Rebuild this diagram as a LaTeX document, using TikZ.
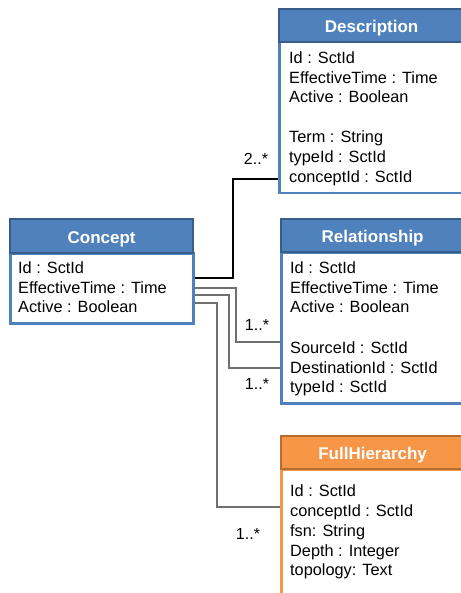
\documentclass[tikz,border=0pt]{standalone}
\usepackage{fontspec}
\setmainfont{Liberation Sans}
\definecolor{umlblue}{HTML}{4F81BD}
\definecolor{umlblueedge}{HTML}{385D8A}
\definecolor{umlorange}{HTML}{F79646}
\definecolor{umlorangeedge}{HTML}{B66D31}
\definecolor{linkgray}{HTML}{707070}
\begin{document}
\begin{tikzpicture}[x=1pt,y=-1pt,
  classhead/.style={rectangle, inner sep=0, anchor=north west, line width=2.2pt, text=white,
    font=\fontsize{17}{20}\selectfont\bfseries, text height=15.4pt, text depth=1pt},
  classbody/.style={rectangle, inner sep=0, anchor=north west, line width=2.5pt, fill=white},
  attr/.style={anchor=base west, inner sep=0, font=\fontsize{16.3}{19}\selectfont},
  mult/.style={anchor=base, inner sep=0, font=\fontsize{16}{19}\selectfont},
  assoc/.style={line width=1.1pt},
  grayassoc/.style={draw=linkgray, line width=1.8pt}]
\useasboundingbox[fill=white] (0,0) rectangle (460,593);
% Concept
\node[classbody, draw=umlblue, minimum width=183pt, minimum height=70pt] (conceptbody) at (9,252) {};
\node[classhead, fill=umlblue, draw=umlblueedge, minimum width=183pt, minimum height=34pt] (concepthead) at (9,218) {Concept};
\foreach \y/\t [count=\i] in {273/Id : SctId, 293/EffectiveTime : Time, 312/Active : Boolean}
  \node[attr] (concept-a\i) at (18,\y) {\t};
% Description
\node[classbody, draw=umlblue, minimum width=185pt, minimum height=151pt] (descbody) at (278,41) {};
\node[classhead, fill=umlblue, draw=umlblueedge, minimum width=185pt, minimum height=33pt] (deschead) at (278,8) {Description};
\foreach \y/\t [count=\i] in {63.3/Id : SctId, 83.3/EffectiveTime : Time, 102.5/Active : Boolean,
    142.7/Term : String, 162.3/typeId : SctId, 182.3/conceptId : SctId}
  \node[attr] (desc-a\i) at (289,\y) {\t};
% Relationship
\node[classbody, draw=umlblue, minimum width=183pt, minimum height=151pt] (relbody) at (280,251) {};
\node[classhead, fill=umlblue, draw=umlblueedge, minimum width=183pt, minimum height=33pt] (relhead) at (280,218) {Relationship};
\foreach \y/\t [count=\i] in {273.3/Id : SctId, 293.3/EffectiveTime : Time, 312.7/Active : Boolean,
    353.3/SourceId : SctId, 373.3/DestinationId : SctId, 392.7/typeId : SctId}
  \node[attr] (rel-a\i) at (290,\y) {\t};
% FullHierarchy
\node[classbody, draw=umlorange, minimum width=183pt, minimum height=142pt] (fhbody) at (280,468) {};
\node[classhead, fill=umlorange, draw=umlorangeedge, minimum width=183pt, minimum height=33pt] (fhhead) at (280,435) {FullHierarchy};
\foreach \y/\t [count=\i] in {496.7/Id : SctId, 516.7/conceptId : SctId, 536.7/fsn: String,
    556/Depth : Integer, 575.7/topology: Text}
  \node[attr] (fh-a\i) at (290,\y) {\t};
% connectors
\draw[assoc] (conceptbody.east |- 0,278) -| (233,179) -- (descbody.west |- 0,179);
\draw[grayassoc] (conceptbody.east |- 0,288) -| (236,342) -- (relbody.west |- 0,342);
\draw[grayassoc] (conceptbody.east |- 0,295) -| (229,368) -- (relbody.west |- 0,368);
\draw[grayassoc] (conceptbody.east |- 0,303) -| (217,507) -- (fhbody.west |- 0,507);
% multiplicities
\node[mult] (m-desc) at (256,165) {2..*};
\node[mult] (m-src) at (257,330.7) {1..*};
\node[mult] (m-dst) at (257,389) {1..*};
\node[mult] (m-fh) at (248,539) {1..*};
\end{tikzpicture}
\end{document}
